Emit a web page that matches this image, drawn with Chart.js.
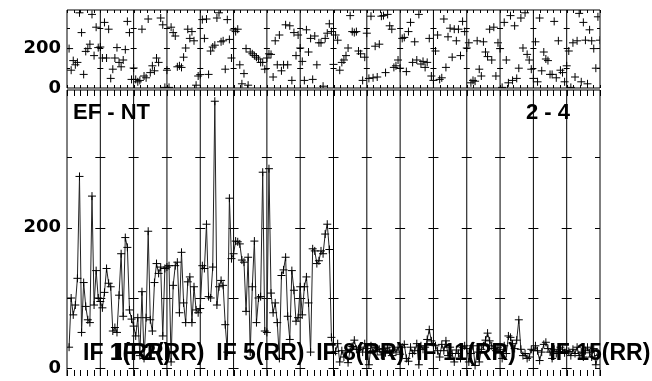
<!DOCTYPE html>
<html>
<head>
<meta charset="utf-8">
<script src="https://cdn.jsdelivr.net/npm/chart.js@4.4.1/dist/chart.umd.min.js"></script>
<style>
html, body { margin: 0; padding: 0; background: #fff; overflow: hidden; }
#wrap { position: relative; width: 652px; height: 381px; }
.box { position: absolute; left: 0; top: 0; width: 652px; height: 381px; }
</style>
</head>
<body>
<div id="wrap">
  <div class="box"><canvas id="phaseChart"></canvas></div>
  <div class="box"><canvas id="ampChart"></canvas></div>
</div>
<script>
// 16 IFs x 16 channels
const chanPerIf = 16;
const baselineName = 'EF - NT';
const timeRange = '2 - 4';
const labelledIfs = [1, 2, 5, 8, 11, 15];
const ifLabels = ['IF 1(RR)', 'IF 2(RR)', 'IF 5(RR)', 'IF 8(RR)', 'IF 11(RR)', 'IF 15(RR)'];
const phaseTicks = [0, 100, 200, 300];
const ampTicks = [0, 100, 200, 300];
const shownTicks = [0, 200];

const phase = [
    [197, 89, 137, 116, 128, 376, 277, 68, 183, 197, 219, 368, 162, 304, 202, 205],
    [150, 328, 150, 294, 48, 94, 150, 202, 128, 106, 140, 192, 333, 277, 43, 100],
    [43, 31, 38, 294, 60, 51, 345, 77, 111, 86, 150, 128, 350, 316, 3, 89],
    [3, 304, 277, 260, 106, 111, 103, 154, 200, 294, 248, 282, 236, 14, 60, 67],
    [342, 248, 345, 68, 185, 205, 214, 350, 376, 231, 236, 94, 342, 243, 150, 290],
    [282, 294, 116, 21, 72, 197, 14, 180, 171, 162, 154, 145, 128, 128, 94, 150],
    [171, 168, 55, 236, 116, 265, 86, 116, 316, 116, 311, 38, 277, 162, 265, 200],
    [133, 38, 291, 180, 248, 43, 260, 116, 226, 226, 9, 248, 274, 321, 282, 118],
    [265, 239, 89, 128, 140, 162, 200, 362, 282, 277, 282, 185, 171, 38, 154, 274],
    [48, 359, 51, 209, 55, 219, 359, 362, 77, 368, 311, 294, 103, 111, 140, 99],
    [248, 253, 82, 282, 328, 128, 231, 140, 368, 120, 133, 103, 128, 248, 60, 38],
    [185, 265, 43, 51, 345, 103, 256, 299, 154, 294, 236, 294, 162, 333, 282, 200],
    [226, 26, 38, 34, 236, 94, 60, 231, 180, 157, 294, 140, 304, 60, 226, 197],
    [3, 328, 140, 26, 362, 38, 311, 48, 99, 350, 200, 376, 168, 140, 94, 48],
    [231, 31, 350, 86, 180, 145, 137, 68, 68, 333, 51, 236, 89, 77, 31, 111],
    [185, 3, 226, 55, 236, 373, 31, 328, 239, 21, 291, 236, 197, 99, 356, 239]
];

const amp = [
    [30, 100, 76, 90, 128, 273, 51, 122, 88, 69, 65, 245, 90, 139, 100, 95],
    [86, 108, 142, 121, 116, 53, 58, 51, 104, 163, 74, 186, 172, 83, 70, 60],
    [46, 72, 18, 109, 14, 72, 195, 69, 53, 122, 149, 135, 144, 46, 142, 144],
    [146, 9, 118, 146, 151, 79, 165, 93, 65, 123, 130, 65, 116, 83, 79, 85],
    [146, 142, 205, 102, 100, 144, 380, 90, 116, 125, 118, 62, 23, 242, 156, 163],
    [181, 180, 177, 154, 151, 81, 158, 23, 116, 181, 65, 100, 102, 279, 53, 51],
    [284, 107, 79, 93, 65, 14, 132, 140, 158, 74, 41, 139, 111, 67, 72, 116],
    [76, 116, 130, 93, 23, 170, 167, 149, 153, 167, 163, 191, 205, 169, 44, 21],
    [24, 35, 9, 25, 16, 23, 8, 27, 31, 40, 27, 27, 30, 23, 35, 28],
    [5, 32, 25, 30, 24, 27, 19, 28, 22, 30, 25, 18, 26, 23, 30, 20],
    [30, 34, 14, 10, 30, 21, 25, 35, 5, 32, 27, 30, 41, 55, 39, 33],
    [32, 25, 16, 34, 25, 39, 18, 30, 21, 9, 26, 21, 14, 30, 32, 28],
    [9, 21, 32, 4, 23, 9, 27, 32, 40, 50, 39, 32, 28, 25, 30, 27],
    [14, 32, 21, 46, 44, 35, 28, 40, 69, 27, 18, 21, 14, 16, 27, 25],
    [32, 25, 11, 23, 34, 37, 28, 23, 14, 27, 21, 24, 30, 27, 22, 25],
    [24, 18, 27, 21, 30, 18, 23, 16, 25, 30, 22, 16, 28, 5, 18, 20]
];

const ifCount = amp.length;
const xMax = ifCount * chanPerIf;
const FONT = "'Liberation Sans', Arial, Helvetica, sans-serif";
const AXIS_FONT = "'DejaVu Sans', sans-serif";

function toPoints(rows) {
    const pts = [];
    rows.forEach((row, i) => row.forEach((v, j) => pts.push({ x: i * chanPerIf + j + 1, y: v })));
    return pts;
}

// box, IF dividers and the little POSSM style tick marks
const frame = {
    id: 'frame',
    beforeDatasetsDraw(chart, args, o) {
        const { ctx, chartArea: a, scales: { x, y } } = chart;
        ctx.save();
        ctx.strokeStyle = '#000';
        ctx.lineWidth = 1;
        ctx.beginPath();
        ctx.moveTo(a.left, a.bottom); ctx.lineTo(a.left, a.top); ctx.lineTo(a.right, a.top); ctx.lineTo(a.right, a.bottom);
        if (o.bottomLine) { ctx.moveTo(a.left, a.bottom); ctx.lineTo(a.right, a.bottom); }
        for (let k = 1; k < ifCount; k++) {
            const px = x.getPixelForValue(k * chanPerIf);
            ctx.moveTo(px, a.top); ctx.lineTo(px, a.bottom);
        }
        for (let k = 0; k <= ifCount * 5; k++) {
            const px = Math.round(x.getPixelForValue(k * chanPerIf / 5)) + 0.5;
            ctx.moveTo(px, a.top); ctx.lineTo(px, a.top + o.topTick);
            ctx.moveTo(px, a.bottom); ctx.lineTo(px, a.bottom - o.bottomTick);
        }
        o.yTicks.forEach(v => {
            const py = Math.round(y.getPixelForValue(v)) + 0.5;
            for (let k = 0; k <= ifCount; k++) {
                const px = x.getPixelForValue(k * chanPerIf);
                ctx.moveTo(Math.max(a.left, px - o.half), py);
                ctx.lineTo(Math.min(a.right, px + o.half), py);
            }
        });
        ctx.stroke();
        ctx.restore();
    }
};

const captions = {
    id: 'captions',
    afterDatasetsDraw(chart) {
        const { ctx, scales: { x } } = chart;
        ctx.save();
        ctx.fillStyle = '#000';
        ctx.textBaseline = 'alphabetic';
        ctx.font = 'bold 22px ' + FONT;
        ctx.fillText(baselineName, 73, 119);
        ctx.fillText(timeRange, 526, 119);
        ctx.font = 'bold 23px ' + FONT;
        labelledIfs.forEach((n, i) => {
            ctx.fillText(ifLabels[i], x.getPixelForValue((n - 1) * chanPerIf) + 16, 360);
        });
        ctx.restore();
    }
};

function yAxis(min, max, ticks) {
    return {
        type: 'linear', position: 'left', min: min, max: max,
        afterFit: s => { s.width = 67; s.paddingTop = 0; s.paddingBottom = 0; },
        afterBuildTicks: s => { s.ticks = ticks.map(v => ({ value: v })); },
        grid: { display: false, drawTicks: false },
        border: { display: false },
        ticks: {
            padding: 6, color: '#000',
            font: { family: AXIS_FONT, size: 18, weight: 'bold' },
            callback: v => shownTicks.includes(v) ? String(v) : ''
        }
    };
}

const xAxis = { type: 'linear', min: 0, max: xMax, display: false };

new Chart(document.getElementById('phaseChart'), {
    type: 'line',
    data: { datasets: [{
        data: toPoints(phase), showLine: false,
        pointStyle: 'cross', pointRadius: 4, pointBorderColor: '#000', pointBorderWidth: 1
    }] },
    options: {
        responsive: true, maintainAspectRatio: false, animation: false, events: [],
        layout: { padding: { top: 10, right: 52, bottom: 293, left: 0 } },
        scales: { x: xAxis, y: yAxis(0, 390, phaseTicks) },
        plugins: {
            legend: { display: false }, tooltip: { enabled: false },
            frame: { topTick: 3, bottomTick: 3, half: 3, yTicks: [100, 200, 300], bottomLine: true }
        }
    },
    plugins: [frame]
});

new Chart(document.getElementById('ampChart'), {
    type: 'line',
    data: { datasets: [{
        data: toPoints(amp), borderColor: '#222', borderWidth: 1, tension: 0, fill: false,
        pointStyle: 'cross', pointRadius: 4, pointBorderColor: '#000', pointBorderWidth: 1
    }] },
    options: {
        responsive: true, maintainAspectRatio: false, animation: false, events: [],
        layout: { padding: { top: 90, right: 52, bottom: 0, left: 0 } },
        scales: { x: xAxis, y: yAxis(-11, 396, ampTicks) },
        plugins: {
            legend: { display: false }, tooltip: { enabled: false },
            frame: { topTick: 6, bottomTick: 6, half: 5, yTicks: ampTicks, bottomLine: false }
        }
    },
    plugins: [frame, captions]
});
</script>
</body>
</html>
